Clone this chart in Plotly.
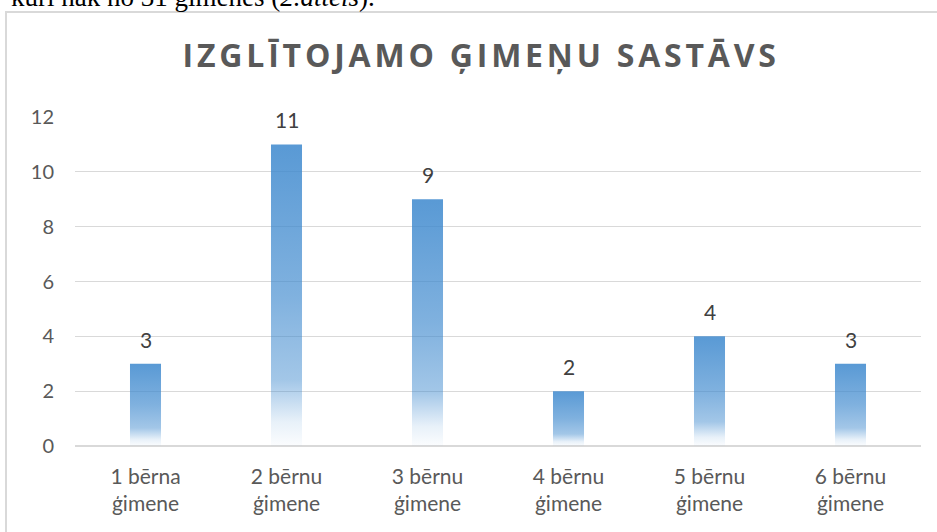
import plotly.graph_objects as go

# ---- data ----
categories = ["1 bērna ģimene", "2 bērnu ģimene", "3 bērnu ģimene",
              "4 bērnu ģimene", "5 bērnu ģimene", "6 bērnu ģimene"]
tick_labels = ["1 bērna<br>ģimene", "2 bērnu<br>ģimene", "3 bērnu<br>ģimene",
               "4 bērnu<br>ģimene", "5 bērnu<br>ģimene", "6 bērnu<br>ģimene"]
values = [3, 11, 9, 2, 4, 3]
y_ticks = [0, 2, 4, 6, 8, 10, 12]

title_text = "IZGLĪTOJAMO ĢIMEŅU SASTĀVS"
page_text = "kuri nāk no 31 ģimenes (<i>2.attēls</i>)."

W, H = 937, 532
ML, MR, MT, MB = 75, 16, 117, 86
PW, PH = W - ML - MR, H - MT - MB

def px_x(p):
    return (p - ML) / PW

def px_y(p):
    return (H - MB - p) / PH

base = "62,137,206"
grad = [
    [0.0, f"rgba({base},0.02)"],
    [0.08, f"rgba({base},0.12)"],
    [0.22, f"rgba({base},0.48)"],
    [0.5, f"rgba({base},0.66)"],
    [1.0, f"rgba({base},0.86)"],
]

half = 0.11
fig = go.Figure()
for i, (cat, v) in enumerate(zip(categories, values)):
    fig.add_trace(go.Scatter(
        x=[i - half, i + half, i + half, i - half, i - half],
        y=[0, 0, v, v, 0],
        mode="lines", fill="toself",
        line=dict(width=0, color="rgba(0,0,0,0)"),
        fillgradient=dict(type="vertical", colorscale=grad, start=0, stop=v),
        name=cat, hoverinfo="skip", showlegend=False,
    ))

annotations = []
for i, v in enumerate(values):
    annotations.append(dict(
        x=i, y=v, xref="x", yref="y", text=str(v), showarrow=False,
        yanchor="bottom", yshift=10,
        font=dict(family="Lato", size=21, color="#404040"),
    ))

annotations.append(dict(
    x=px_x(481), y=px_y(55), xref="paper", yref="paper",
    text=title_text, showarrow=False, xanchor="center", yanchor="middle",
    font=dict(family="Open Sans", size=32, color="#595959", weight="bold"),
))
annotations.append(dict(
    x=px_x(377), y=px_y(14), xref="paper", yref="paper",
    text=page_text, showarrow=False, xanchor="right", yanchor="bottom",
    font=dict(family="Liberation Serif", size=27, color="#000000"),
))

fig.update_layout(
    width=W, height=H,
    margin=dict(l=ML, r=MR, t=MT, b=MB, pad=0),
    paper_bgcolor="white", plot_bgcolor="white",
    annotations=annotations,
    shapes=[dict(
        type="rect", xref="paper", yref="paper",
        x0=px_x(6), x1=px_x(945), y0=px_y(545), y1=px_y(12),
        line=dict(color="#D9D9D9", width=2), fillcolor="rgba(0,0,0,0)",
        layer="below",
    )],
    xaxis=dict(
        range=[-0.5, len(values) - 0.5],
        tickmode="array", tickvals=list(range(len(values))), ticktext=tick_labels,
        showgrid=False, zeroline=False, showline=False,
        ticks="", ticklabelstandoff=16,
        tickfont=dict(family="Lato", size=21, color="#595959"),
        fixedrange=True,
    ),
    yaxis=dict(
        range=[0, 12], tickmode="array", tickvals=y_ticks,
        showgrid=True, gridcolor="#D9D9D9", gridwidth=1,
        zeroline=True, zerolinecolor="#D9D9D9", zerolinewidth=1.5,
        showline=False, ticks="", ticklabelstandoff=20,
        tickfont=dict(family="Lato", size=20, color="#595959"),
        fixedrange=True,
    ),
)

post = (
    "document.body.style.margin='0';"
    "var gd=document.getElementById('{plot_id}');"
    "gd.querySelectorAll('text.annotation-text').forEach(function(t){"
    "if(t.textContent.indexOf('IZGL')===0){t.style.letterSpacing='3.8px';}});"
)

fig.write_html("out.html", post_script=post,
               config={"displayModeBar": False, "staticPlot": True})
